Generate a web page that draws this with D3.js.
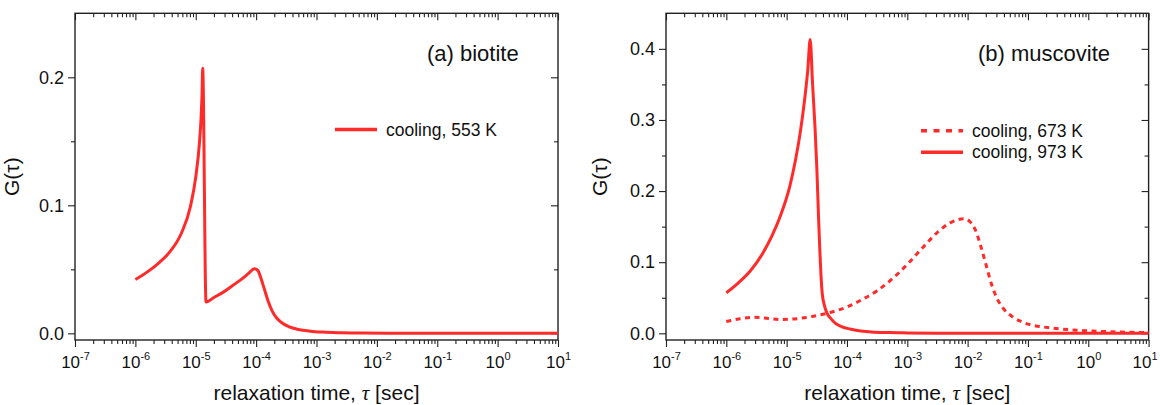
<!DOCTYPE html>
<html>
<head>
<meta charset="utf-8">
<script src="https://cdn.jsdelivr.net/npm/d3@7"></script>
<style>
  body { margin: 0; background: #fff; }
  text { font-family: "Liberation Sans", Arial, sans-serif; fill: #111; }
</style>
</head>
<body>
<div id="chart"></div>
<script>
// log10(tau) exponents and G(tau) values
var biotiteLogTau = [-6.0, -5.8, -5.6, -5.43, -5.24, -5.09, -5.0, -4.94, -4.91, -4.895, -4.885,
    -4.83, -4.7, -4.55, -4.4, -4.25, -4.12, -4.03, -3.97, -3.92, -3.86, -3.80, -3.74, -3.66,
    -3.58, -3.45, -3.3, -3.1, -2.9, -2.6, -2.2, -1.5, 0, 1];
var biotiteG553 = [0.042, 0.048, 0.0555, 0.0636, 0.078, 0.0987, 0.122, 0.148, 0.170, 0.188, 0.207,
    0.0245, 0.028, 0.032, 0.037, 0.042, 0.047, 0.0505, 0.049, 0.043, 0.034, 0.025, 0.018, 0.012,
    0.0085, 0.005, 0.003, 0.0017, 0.001, 0.0005, 0.0002, 0.0001, 0, 0];

var musc973LogTau = [-6.0, -5.8, -5.6, -5.4, -5.25, -5.1, -4.95, -4.85, -4.77, -4.70, -4.65, -4.61,
    -4.57, -4.53, -4.50, -4.47, -4.45, -4.43, -4.41, -4.37, -4.33, -4.28, -4.19, -4.08, -3.95,
    -3.8, -3.6, -3.3, -3.0, -2.5, -2.0, 0, 1];
var muscG973 = [0.057, 0.071, 0.088, 0.112, 0.136, 0.166, 0.206, 0.245, 0.285, 0.330, 0.370, 0.413,
    0.35, 0.29, 0.233, 0.16, 0.117, 0.08, 0.056, 0.038, 0.028, 0.022, 0.014, 0.009, 0.006,
    0.0035, 0.002, 0.001, 0.0006, 0.0002, 0.0001, 0, 0];

var musc673LogTau = [-6.0, -5.8, -5.55, -5.3, -5.1, -4.9, -4.7, -4.5, -4.25, -4.0, -3.76, -3.5,
    -3.27, -3.0, -2.75, -2.5, -2.3, -2.15, -2.05, -1.95, -1.87, -1.78, -1.7, -1.6, -1.5, -1.4,
    -1.25, -1.1, -0.9, -0.6, -0.3, 0.0, 0.5, 1.0];
var muscG673 = [0.0165, 0.020, 0.0225, 0.021, 0.0195, 0.020, 0.022, 0.025, 0.030, 0.037, 0.047, 0.060,
    0.075, 0.097, 0.120, 0.142, 0.155, 0.160, 0.161, 0.156, 0.145, 0.122, 0.098, 0.068, 0.047, 0.034,
    0.023, 0.016, 0.011, 0.0075, 0.005, 0.0035, 0.0018, 0.001];

var xExponents = [-7, -6, -5, -4, -3, -2, -1, 0, 1];
var yTicksA = [0, 0.1, 0.2];
var yTicksB = [0, 0.1, 0.2, 0.3, 0.4];

var w = 1160, h = 405;
var red = "#ff2a2a";

var svg = d3.select("#chart").append("svg")
    .attr("width", w)
    .attr("height", h);

function zip(logs, vals) {
    return logs.map(function(l, i) { return { tau: Math.pow(10, l), g: vals[i] }; });
}

function drawPanel(p) {
    var xScale = d3.scaleLog().domain([1e-7, 10]).range([p.left, p.right]);
    var yScale = d3.scaleLinear().domain(p.yDomain).range([p.bottom, p.top]);

    var majors = xExponents.map(function(e) { return Math.pow(10, e); });
    var minors = [];
    for (var e = -7; e < 1; e++) {
        for (var k = 2; k <= 9; k++) minors.push(k * Math.pow(10, e));
    }
    var yMinor = [];
    for (var v = 0.05; v < p.yDomain[1] - 0.01; v += 0.1) yMinor.push(+v.toFixed(2));

    var g = svg.append("g");

    // bottom axis: major + minor ticks outward
    var bottomMajor = g.append("g").attr("transform", "translate(0," + p.bottom + ")")
        .call(d3.axisBottom(xScale).tickValues(majors).tickSize(7).tickFormat(""));
    g.append("g").attr("transform", "translate(0," + p.bottom + ")")
        .call(d3.axisBottom(xScale).tickValues(minors).tickSize(4).tickFormat(""));

    // top axis: ticks inward
    g.append("g").attr("transform", "translate(0," + p.top + ")")
        .call(d3.axisTop(xScale).tickValues(majors).tickSize(-7).tickFormat(""));
    g.append("g").attr("transform", "translate(0," + p.top + ")")
        .call(d3.axisTop(xScale).tickValues(minors).tickSize(-4).tickFormat(""));

    // left axis: outward with labels
    g.append("g").attr("class", "yaxis").attr("transform", "translate(" + p.left + ",0)")
        .call(d3.axisLeft(yScale).tickValues(p.yTicks).tickSize(7).tickPadding(4)
            .tickFormat(d3.format(".1f")));
    g.append("g").attr("transform", "translate(" + p.left + ",0)")
        .call(d3.axisLeft(yScale).tickValues(yMinor).tickSize(4).tickFormat(""));

    // right axis: inward
    g.append("g").attr("transform", "translate(" + p.right + ",0)")
        .call(d3.axisRight(yScale).tickValues(p.yTicks).tickSize(-7).tickFormat(""));
    g.append("g").attr("transform", "translate(" + p.right + ",0)")
        .call(d3.axisRight(yScale).tickValues(yMinor).tickSize(-4).tickFormat(""));

    g.selectAll(".domain").remove();
    g.selectAll(".tick line").attr("stroke", "#222").attr("stroke-width", 1.1);
    g.selectAll(".yaxis text").attr("font-size", 18).attr("font-family", "Liberation Sans, Arial, sans-serif").attr("fill", "#111");

    // x tick labels as powers of ten (last one nudged so it stays on the page)
    bottomMajor.selectAll(".tick").each(function(d, i) {
        var nudge = (p.right > w - 20 && i === xExponents.length - 1) ? -4 : 0;
        var t = d3.select(this).append("text")
            .attr("x", nudge)
            .attr("y", 28)
            .attr("text-anchor", "middle")
            .attr("font-size", 17)
            .attr("fill", "#111");
        t.append("tspan").text("10");
        t.append("tspan").attr("dy", -8).attr("font-size", 11).text(xExponents[i]);
    });

    // frame
    g.append("rect")
        .attr("x", p.left).attr("y", p.top)
        .attr("width", p.right - p.left).attr("height", p.bottom - p.top)
        .attr("fill", "none").attr("stroke", "#222").attr("stroke-width", 1.4);

    var line = d3.line()
        .x(function(d) { return xScale(d.tau); })
        .y(function(d) { return yScale(d.g); })
        .curve(d3.curveMonotoneX);

    p.series.forEach(function(s) {
        g.append("path")
            .datum(s.data)
            .attr("fill", "none")
            .attr("stroke", red)
            .attr("stroke-width", 3)
            .attr("stroke-dasharray", s.dash || null)
            .attr("d", line);
    });

    // legend
    p.series.forEach(function(s, i) {
        var ly = p.legendY + i * 21.5;
        g.append("line")
            .attr("x1", p.legendX).attr("x2", p.legendX + 42)
            .attr("y1", ly).attr("y2", ly)
            .attr("stroke", red).attr("stroke-width", 3.5)
            .attr("stroke-dasharray", s.dash ? "6,6.5" : null);
        g.append("text")
            .attr("x", p.legendX + 51).attr("y", ly + 6)
            .attr("font-size", 17.5)
            .text(s.name);
    });

    // panel label
    g.append("text")
        .attr("x", p.titleX).attr("y", 61)
        .attr("font-size", 22)
        .text(p.title);

    // axis titles
    var xt = g.append("text")
        .attr("x", (p.left + p.right) / 2).attr("y", 400)
        .attr("text-anchor", "middle")
        .attr("font-size", 21);
    xt.append("tspan").text("relaxation time,  ");
    xt.append("tspan").attr("font-family", "Liberation Serif, serif").attr("font-style", "italic").text("\u03c4");
    xt.append("tspan").text(" [sec]");

    g.append("text")
        .attr("transform", "translate(" + (p.left - p.yLabelOffset) + "," + (p.top + p.bottom) / 2 + ") rotate(-90)")
        .attr("text-anchor", "middle")
        .attr("font-size", 21)
        .text("G(\u03c4)");
}

drawPanel({
    left: 75, right: 558, top: 13.3, bottom: 340,
    yDomain: [-0.0052, 0.25], yTicks: yTicksA,
    legendX: 335, legendY: 129.5,
    titleX: 427, title: "(a) biotite",
    yLabelOffset: 56,
    series: [{ name: "cooling, 553 K", data: zip(biotiteLogTau, biotiteG553) }]
});

drawPanel({
    left: 666, right: 1148.6, top: 13.3, bottom: 340,
    yDomain: [-0.0094, 0.45], yTicks: yTicksB,
    legendX: 921, legendY: 130.7,
    titleX: 978, title: "(b) muscovite",
    yLabelOffset: 59,
    series: [
        { name: "cooling, 673 K", data: zip(musc673LogTau, muscG673), dash: "5,4.5" },
        { name: "cooling, 973 K", data: zip(musc973LogTau, muscG973) }
    ]
});
</script>
</body>
</html>
